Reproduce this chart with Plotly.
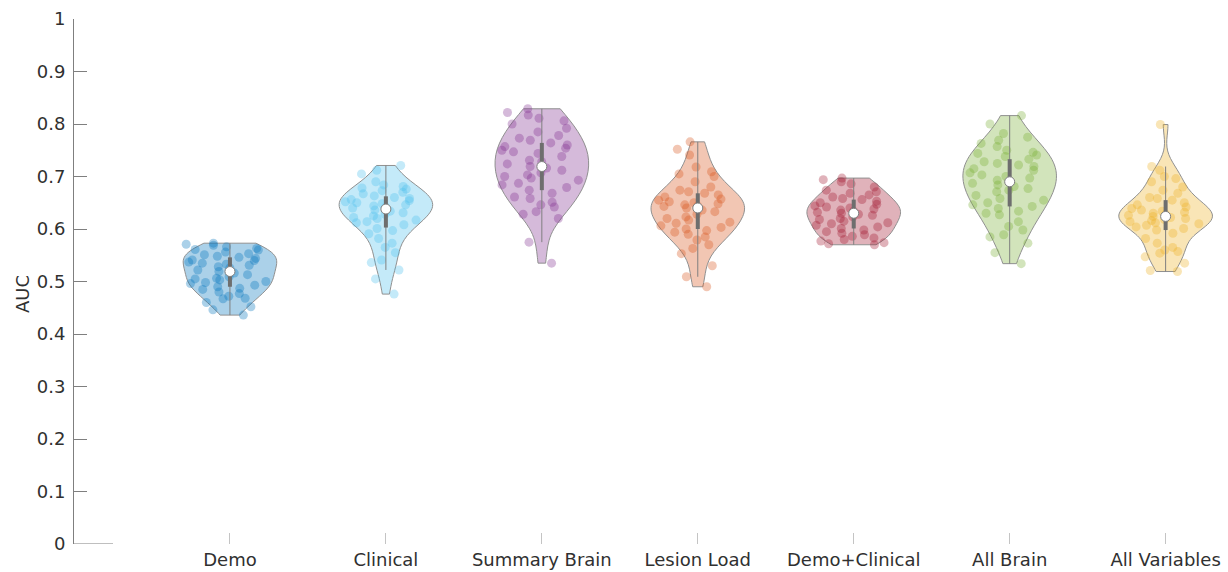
import numpy as np
import plotly.graph_objects as go

categories = ["Demo", "Clinical", "Summary Brain", "Lesion Load",
              "Demo+Clinical", "All Brain", "All Variables"]

demo = [0.573, 0.571, 0.569, 0.566, 0.563, 0.561, 0.560, 0.556, 0.553, 0.551,
        0.548, 0.546, 0.544, 0.541, 0.540, 0.537, 0.535, 0.533, 0.531, 0.528,
        0.526, 0.522, 0.519, 0.516, 0.513, 0.509, 0.506, 0.505, 0.503, 0.500,
        0.498, 0.496, 0.493, 0.490, 0.487, 0.485, 0.480, 0.477, 0.472, 0.468,
        0.467, 0.460, 0.452, 0.446, 0.436]
clinical = [0.721, 0.712, 0.705, 0.690, 0.684, 0.681, 0.678, 0.676, 0.673, 0.670,
            0.667, 0.663, 0.660, 0.658, 0.656, 0.654, 0.652, 0.650, 0.648, 0.646,
            0.644, 0.642, 0.640, 0.636, 0.634, 0.631, 0.628, 0.625, 0.622, 0.620,
            0.617, 0.614, 0.612, 0.608, 0.601, 0.597, 0.591, 0.582, 0.573, 0.565,
            0.555, 0.541, 0.536, 0.522, 0.505, 0.476]
summary_brain = [0.829, 0.822, 0.817, 0.811, 0.806, 0.800, 0.792, 0.785, 0.778, 0.773,
                 0.769, 0.764, 0.760, 0.757, 0.754, 0.750, 0.747, 0.744, 0.738, 0.731,
                 0.728, 0.724, 0.719, 0.716, 0.712, 0.707, 0.703, 0.700, 0.697, 0.693,
                 0.687, 0.684, 0.679, 0.674, 0.668, 0.661, 0.658, 0.651, 0.646, 0.642,
                 0.633, 0.628, 0.620, 0.575, 0.535]
lesion_load = [0.766, 0.752, 0.741, 0.718, 0.709, 0.705, 0.700, 0.690, 0.680, 0.674,
               0.671, 0.668, 0.665, 0.661, 0.657, 0.655, 0.652, 0.650, 0.648, 0.646,
               0.644, 0.643, 0.640, 0.636, 0.633, 0.628, 0.623, 0.620, 0.617, 0.613,
               0.611, 0.606, 0.603, 0.600, 0.597, 0.594, 0.590, 0.585, 0.579, 0.570,
               0.563, 0.553, 0.530, 0.509, 0.490]
demo_clinical = [0.697, 0.694, 0.690, 0.686, 0.680, 0.674, 0.671, 0.668, 0.665, 0.661,
                 0.658, 0.656, 0.653, 0.650, 0.647, 0.644, 0.642, 0.640, 0.638, 0.636,
                 0.634, 0.632, 0.630, 0.628, 0.626, 0.623, 0.620, 0.618, 0.615, 0.612,
                 0.610, 0.607, 0.604, 0.601, 0.598, 0.595, 0.592, 0.589, 0.586, 0.583,
                 0.580, 0.577, 0.574, 0.572, 0.570]
all_brain = [0.816, 0.800, 0.782, 0.775, 0.769, 0.763, 0.757, 0.750, 0.746, 0.744,
             0.741, 0.738, 0.733, 0.728, 0.725, 0.722, 0.719, 0.715, 0.712, 0.707,
             0.703, 0.700, 0.697, 0.693, 0.690, 0.687, 0.684, 0.681, 0.677, 0.674,
             0.671, 0.664, 0.658, 0.655, 0.650, 0.646, 0.643, 0.639, 0.634, 0.630,
             0.627, 0.614, 0.605, 0.598, 0.589, 0.585, 0.573, 0.555, 0.534]
all_variables = [0.799, 0.719, 0.712, 0.700, 0.696, 0.690, 0.680, 0.674, 0.668, 0.660,
                 0.658, 0.655, 0.650, 0.646, 0.642, 0.639, 0.636, 0.634, 0.632, 0.630,
                 0.628, 0.626, 0.624, 0.622, 0.620, 0.618, 0.616, 0.614, 0.612, 0.610,
                 0.607, 0.604, 0.601, 0.598, 0.592, 0.582, 0.573, 0.565, 0.560, 0.557,
                 0.554, 0.547, 0.535, 0.521, 0.519]

series = [demo, clinical, summary_brain, lesion_load, demo_clinical, all_brain, all_variables]
colors = ["#0072BD", "#4DBEEE", "#7E2F8E", "#D95319", "#A2142F", "#77AC30", "#EDB120"]

y_ticks = [0, 0.1, 0.2, 0.3, 0.4, 0.5, 0.6, 0.7, 0.8, 0.9, 1]
y_ticktext = ["0", "0.1", "0.2", "0.3", "0.4", "0.5", "0.6", "0.7", "0.8", "0.9", "1"]

FONT = "DejaVu Sans"
TEXT = "#303030"
GRAY = "#7f7f7f"


def rgba(hex_color, a):
    h = hex_color.lstrip("#")
    r, g, b = int(h[0:2], 16), int(h[2:4], 16), int(h[4:6], 16)
    return f"rgba({r},{g},{b},{a})"


fig = go.Figure()

for name, vals, col in zip(categories, series, colors):
    fig.add_trace(go.Violin(
        x=[name] * len(vals), y=vals, name=name,
        spanmode="hard", scalemode="width", width=0.6,
        fillcolor=rgba(col, 0.33), line=dict(color="#909090", width=1),
        points="all", pointpos=0, jitter=0.95,
        marker=dict(color=rgba(col, 0.33), size=9, line=dict(width=0)),
        box_visible=False, meanline_visible=False,
        hoverinfo="y", showlegend=False,
    ))

# box-plot summary drawn over each violin: whiskers, IQR bar, median dot
for name, vals in zip(categories, series):
    v = np.asarray(vals)
    q1, med, q3 = np.percentile(v, [25, 50, 75])
    iqr = q3 - q1
    lo = v[v >= q1 - 1.5 * iqr].min()
    hi = v[v <= q3 + 1.5 * iqr].max()
    fig.add_trace(go.Scatter(x=[name, name], y=[lo, hi], mode="lines",
                             line=dict(color=GRAY, width=1),
                             hoverinfo="skip", showlegend=False))
    fig.add_trace(go.Scatter(x=[name, name], y=[q1, q3], mode="lines",
                             line=dict(color="#6e6e6e", width=4),
                             hoverinfo="skip", showlegend=False))
    fig.add_trace(go.Scatter(x=[name], y=[med], mode="markers",
                             marker=dict(color="white", size=10,
                                         line=dict(color=GRAY, width=1)),
                             hoverinfo="y", showlegend=False))

fig.update_layout(
    width=1228, height=572,
    margin=dict(l=74, r=0, t=19, b=28),
    plot_bgcolor="white", paper_bgcolor="white",
    violinmode="overlay",
    font=dict(family=FONT, size=18, color=TEXT),
    xaxis=dict(
        type="category", categoryorder="array", categoryarray=categories,
        range=[-1.0, 6.4], automargin=False,
        showline=False, showgrid=False, zeroline=False,
        ticks="inside", ticklen=11, tickcolor="#c4c4c4", tickwidth=1,
        ticklabelstandoff=3,
        tickfont=dict(family=FONT, size=18, color=TEXT),
    ),
    yaxis=dict(
        range=[0, 1], tickvals=y_ticks, ticktext=y_ticktext, automargin=False,
        showline=True, linecolor=GRAY, linewidth=1,
        showgrid=False, zeroline=False,
        ticks="inside", ticklen=13, tickcolor=GRAY, tickwidth=1,
        ticklabelstandoff=4,
        tickfont=dict(family=FONT, size=18, color=TEXT),
    ),
    shapes=[dict(type="line", xref="paper", yref="y",
                 x0=0, x1=(113 - 74) / 1154, y0=0, y1=0,
                 line=dict(color=GRAY, width=1))],
    annotations=[dict(text="AUC", textangle=-90, showarrow=False,
                      xref="paper", yref="paper",
                      x=(22 - 74) / 1154, y=(544 - 294) / 525,
                      xanchor="center", yanchor="middle",
                      font=dict(family=FONT, size=18, color=TEXT))],
)

fig.write_html("out.html")
